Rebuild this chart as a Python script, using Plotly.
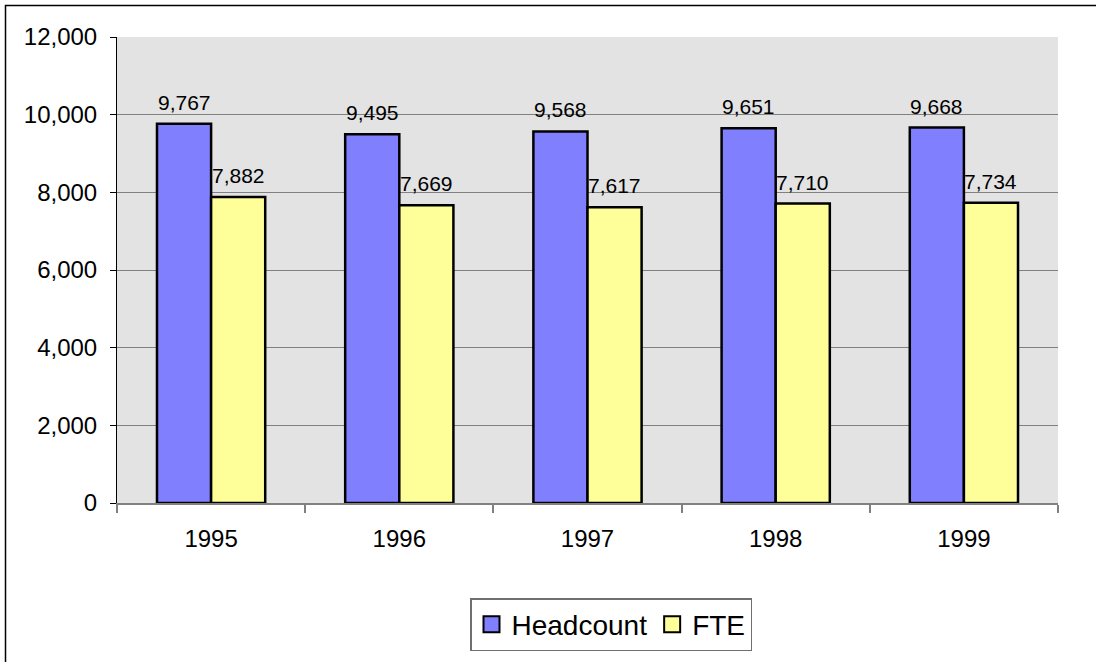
import plotly.graph_objects as go

anos = ['1995', '1996', '1997', '1998', '1999']
headcount = [9767, 9495, 9568, 9651, 9668]
fte = [7882, 7669, 7617, 7710, 7734]

# area do grafico em pixels
W, H = 1096, 662
esq, dir_, topo, base = 117, 1058, 37, 503
larg = dir_ - esq
alt = base - topo

fonte = 'Arial, Liberation Sans, sans-serif'
azul, amarelo = '#8080FF', '#FFFF99'

fig = go.Figure()
fig.add_trace(go.Bar(x=anos, y=headcount, name='Headcount', showlegend=False,
                     marker=dict(color=azul, line=dict(color='black', width=2.5))))
fig.add_trace(go.Bar(x=anos, y=fte, name='FTE', showlegend=False,
                     marker=dict(color=amarelo, line=dict(color='black', width=2.5))))

# entradas da legenda com quadrados maiores
for nome, cor in (('Headcount', azul), ('FTE', amarelo)):
    fig.add_trace(go.Scatter(x=[None], y=[None], mode='markers', name=nome,
                             marker=dict(symbol='square', size=17, color=cor,
                                         line=dict(color='black', width=2))))

# rotulos de valor acima das barras (x pelo indice da categoria)
desloc = 27
for serie, sinal in ((headcount, -1), (fte, 1)):
    for i, v in enumerate(serie):
        fig.add_annotation(x=i, y=v, text=f'{v:,}', showarrow=False,
                           xshift=sinal * desloc, yshift=8, yanchor='bottom',
                           font=dict(family=fonte, size=21, color='black'))

# moldura externa
fig.add_shape(type='rect', xref='paper', yref='paper',
              x0=(5.5 - esq) / larg, x1=(W + 10 - esq) / larg,
              y0=(base - H - 10) / alt, y1=(base - 5.5) / alt,
              line=dict(color='black', width=1.5), layer='below')

fig.update_layout(
    width=W, height=H,
    barmode='group', bargap=0.425, bargroupgap=0,
    plot_bgcolor='#E3E3E3', paper_bgcolor='white',
    margin=dict(l=esq, r=W - dir_, t=topo, b=H - base, autoexpand=False),
    font=dict(family=fonte, size=24, color='black'),
    legend=dict(orientation='h', x=(611 - esq) / larg, xanchor='center',
                y=(base - 598) / alt, yanchor='top',
                bordercolor='#707070', borderwidth=1.5, bgcolor='white',
                font=dict(size=28), itemsizing='trace'),
)
fig.update_yaxes(range=[0, 12000], dtick=2000, tickformat=',d',
                 showgrid=True, gridcolor='#808080', gridwidth=1,
                 showline=True, linecolor='black', linewidth=1,
                 ticks='outside', ticklen=6, tickcolor='black',
                 ticklabelstandoff=8, zeroline=False, automargin=False)
fig.update_xaxes(type='category', range=[-0.5, 4.5],
                 showline=True, linecolor='#808080', linewidth=2,
                 ticks='outside', tickson='boundaries', ticklen=8,
                 tickcolor='#808080', tickwidth=2, ticklabelstandoff=13,
                 showgrid=False, tickangle=0, automargin=False)

# tira a margem padrao da pagina para a figura ficar no canto
fig.write_html('out.html', config={'displayModeBar': False},
               post_script="document.body.style.margin='0';")
